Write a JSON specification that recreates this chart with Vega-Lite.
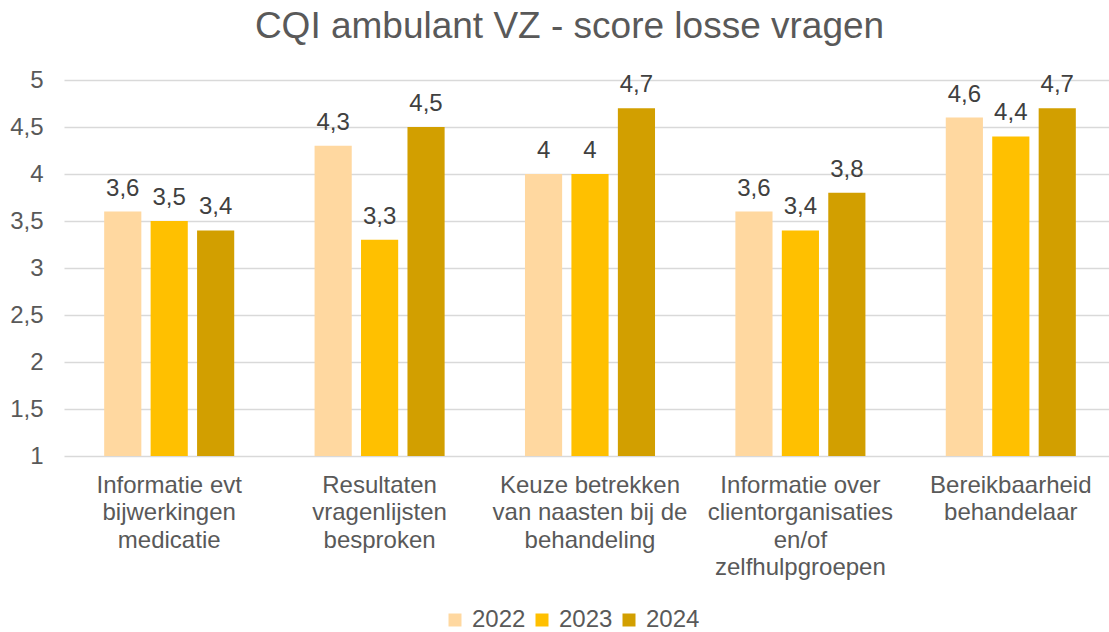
{
  "$schema": "https://vega.github.io/schema/vega-lite/v6.json",
  "width": 1045,
  "height": 376,
  "autosize": {"type": "none"},
  "padding": {"left": 64, "top": 80, "right": 0, "bottom": 176},
  "background": "white",
  "title": {
    "text": "CQI ambulant VZ - score losse vragen",
    "fontSize": 37,
    "font": "Liberation Sans",
    "fontWeight": "normal",
    "color": "#595959",
    "anchor": "middle",
    "frame": "group",
    "dx": -17,
    "offset": 22
  },
  "data": {
    "values": [
      {"vraag": "Informatie evt|bijwerkingen|medicatie", "jaar": "2022", "score": 3.6},
      {"vraag": "Informatie evt|bijwerkingen|medicatie", "jaar": "2023", "score": 3.5},
      {"vraag": "Informatie evt|bijwerkingen|medicatie", "jaar": "2024", "score": 3.4},
      {"vraag": "Resultaten|vragenlijsten|besproken", "jaar": "2022", "score": 4.3},
      {"vraag": "Resultaten|vragenlijsten|besproken", "jaar": "2023", "score": 3.3},
      {"vraag": "Resultaten|vragenlijsten|besproken", "jaar": "2024", "score": 4.5},
      {"vraag": "Keuze betrekken|van naasten bij de|behandeling", "jaar": "2022", "score": 4.0},
      {"vraag": "Keuze betrekken|van naasten bij de|behandeling", "jaar": "2023", "score": 4.0},
      {"vraag": "Keuze betrekken|van naasten bij de|behandeling", "jaar": "2024", "score": 4.7},
      {"vraag": "Informatie over|clientorganisaties|en/of|zelfhulpgroepen", "jaar": "2022", "score": 3.6},
      {"vraag": "Informatie over|clientorganisaties|en/of|zelfhulpgroepen", "jaar": "2023", "score": 3.4},
      {"vraag": "Informatie over|clientorganisaties|en/of|zelfhulpgroepen", "jaar": "2024", "score": 3.8},
      {"vraag": "Bereikbaarheid|behandelaar", "jaar": "2022", "score": 4.6},
      {"vraag": "Bereikbaarheid|behandelaar", "jaar": "2023", "score": 4.4},
      {"vraag": "Bereikbaarheid|behandelaar", "jaar": "2024", "score": 4.7}
    ]
  },
  "encoding": {
    "x": {
      "field": "vraag",
      "type": "nominal",
      "sort": null,
      "scale": {"range": [0, 1052], "paddingInner": 0, "paddingOuter": 0},
      "axis": {
        "title": null,
        "labelAngle": 0,
        "domain": false,
        "ticks": false,
        "labelExpr": "split(datum.label, '|')",
        "labelFontSize": 24,
        "labelFont": "Liberation Sans",
        "labelColor": "#595959",
        "labelLineHeight": 27.5,
        "labelPadding": 17,
        "labelBaseline": "top",
        "labelLimit": 0
      }
    },
    "xOffset": {
      "field": "jaar",
      "type": "nominal",
      "scale": {"paddingInner": 0.2, "paddingOuter": 0.865}
    },
    "y": {
      "field": "score",
      "type": "quantitative",
      "scale": {"domain": [1, 5], "zero": false, "nice": false},
      "axis": {
        "title": null,
        "values": [1, 1.5, 2, 2.5, 3, 3.5, 4, 4.5, 5],
        "format": "~g",
        "domain": false,
        "ticks": false,
        "grid": true,
        "gridColor": "#d9d9d9",
        "gridWidth": 1.3,
        "labelFontSize": 24,
        "labelFont": "Liberation Sans",
        "labelColor": "#595959",
        "labelPadding": 21
      }
    }
  },
  "layer": [
    {
      "mark": {"type": "bar"},
      "encoding": {
        "y2": {"datum": 1},
        "color": {
          "field": "jaar",
          "type": "nominal",
          "scale": {"domain": ["2022", "2023", "2024"], "range": ["#FFD8A0", "#FFC000", "#D29F00"]},
          "legend": {
            "title": null,
            "orient": "none",
            "direction": "horizontal",
            "legendX": 379,
            "legendY": 528,
            "symbolType": "square",
            "symbolSize": 169,
            "symbolStrokeWidth": 0,
            "labelFontSize": 24,
            "labelFont": "Liberation Sans",
            "labelColor": "#595959",
            "labelOffset": 5,
            "columnPadding": 4
          }
        }
      }
    },
    {
      "mark": {"type": "text", "baseline": "alphabetic", "dy": -16, "fontSize": 24, "font": "Liberation Sans", "color": "#404040"},
      "encoding": {
        "text": {"field": "score", "type": "quantitative", "format": "~g"}
      }
    }
  ],
  "config": {
    "view": {"stroke": null},
    "locale": {"number": {"decimal": ",", "thousands": ".", "grouping": [3], "currency": ["€", ""]}}
  }
}
